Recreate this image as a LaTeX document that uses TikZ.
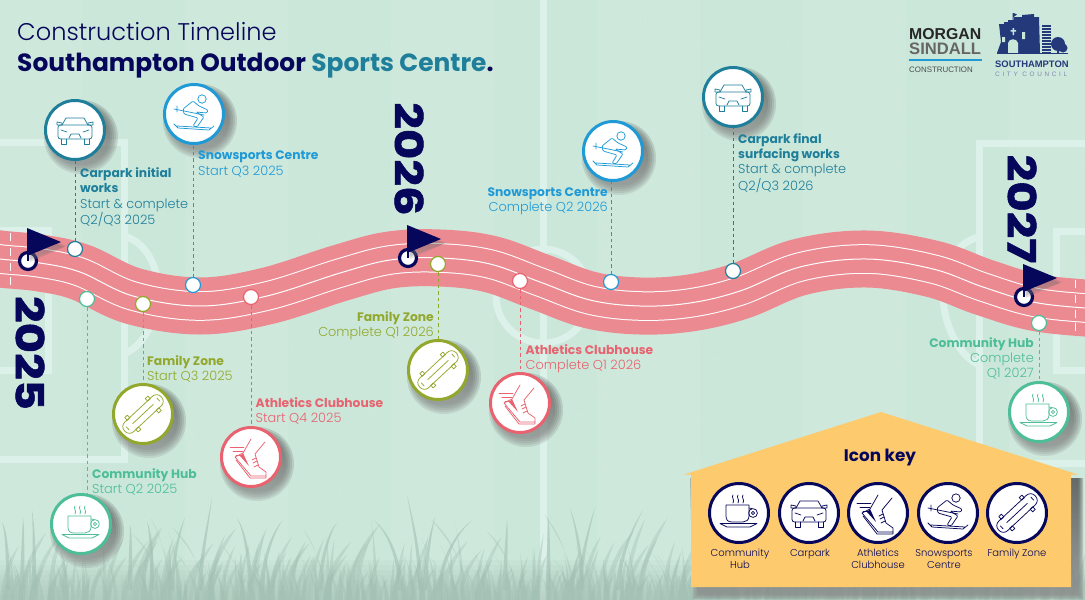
\documentclass[tikz,border=0pt]{standalone}
\usepackage{fontspec}
\setmainfont{Poppins}
\newfontfamily\thinfont{Poppins Light}
\newfontfamily\logofont{Liberation Sans}
\newfontfamily\spacedfont[LetterSpace=42]{Liberation Sans}
\usetikzlibrary{positioning}

\definecolor{navy}{HTML}{06065A}
\definecolor{logonavy}{HTML}{24397A}
\definecolor{carpark}{HTML}{1F7F9B}
\definecolor{snow}{HTML}{1F9AD6}
\definecolor{family}{HTML}{92A82C}
\definecolor{athletics}{HTML}{E8636F}
\definecolor{community}{HTML}{4DBE98}
\definecolor{trackred}{HTML}{EC8A92}
\definecolor{keyorange}{HTML}{FDCB6E}
\definecolor{turf}{HTML}{CBE7DA}
\definecolor{pitchline}{HTML}{DBF1E9}
\definecolor{grassblade}{HTML}{A3C1B4}
\definecolor{shade}{HTML}{24504E}

\newcommand{\bodyfont}{\thinfont\fontsize{12.9}{15.4}\selectfont}

\tikzset{
  badge/.style={circle, fill=white, line width=3pt, minimum size=59pt, inner sep=0pt},
  stop/.style={circle, fill=white, line width=1.2pt, minimum size=15pt, inner sep=0pt},
  flagpin/.style={circle, fill=white, draw=navy, line width=3.2pt, minimum size=17pt, inner sep=0pt},
  leader/.style={line width=.85pt, dash pattern=on 3.4pt off 3pt},
  note/.style={inner sep=0pt, align=left, anchor=north west, font=\fontsize{12.3}{15.4}\selectfont},
  noter/.style={note, align=right, anchor=north east},
  year/.style={rotate=-90, inner sep=0pt, text=navy, font=\fontsize{44}{44}\selectfont\bfseries\addfontfeatures{FakeBold=1.2}},
  keytext/.style={inner sep=0pt, align=center, anchor=north, text=navy, font=\thinfont\fontsize{10}{12.2}\selectfont},
  pitch/.style={draw=pitchline, line width=7pt},
  glyph/.style={line width=.75pt, line join=round, line cap=round},
}

% centre line of the running track
\def\trackline{plot[smooth, tension=.6] coordinates {(-30,254) (0,259) (40,263) (80,272) (133,296)
  (200,306) (267,296) (340,273) (390,260) (440,258) (490,264) (540,282) (590,300) (640,306) (690,303)
  (740,291) (800,267) (867,259) (933,269) (983,287) (1033,302) (1085,308) (1120,309)}}

% icons, drawn round (0,0)
\def\cupicon{
  \draw[glyph] (-6,-18) .. controls (-8,-16) and (-4,-13) .. (-6,-10) (-1,-18) .. controls (-3,-16) and (1,-13) .. (-1,-10)
    (4,-18) .. controls (2,-16) and (6,-13) .. (4,-10);
  \draw[glyph] (-13,-8) -- (10,-8) -- (10,3) .. controls (10,7) and (7,9) .. (4,9) -- (-7,9) .. controls (-11,9) and (-13,7) .. (-13,3) -- cycle;
  \draw[glyph] (14,0) circle (4.4pt) (14,0) circle (1.6pt) (10,-5) -- (13,-4.4);
  \draw[glyph] (-19,10.5) -- (18,10.5) -- (11,14) -- (-12,14) -- cycle;
}
\def\caricon{
  \draw[glyph] (-13,-5) -- (-9,-12) -- (9,-12) -- (13,-5);
  \draw[glyph, rounded corners=2.5pt] (-17,-5) -- (17,-5) -- (17,9) -- (-17,9) -- cycle;
  \draw[glyph] (-18,-8) -- (-13,-7) -- (-13,-5) -- (-18,-5) -- cycle (18,-8) -- (13,-7) -- (13,-5) -- (18,-5) -- cycle;
  \draw[glyph] (-14,9) -- (-14,14) -- (-9,14) -- (-9,9) (9,9) -- (9,14) -- (14,14) -- (14,9);
  \draw[glyph] (-14,0) -- (-8,2) (14,0) -- (8,2) (-6,8) -- (-4,4) -- (4,4) -- (6,8);
}
\def\shoeicon{
  \draw[glyph] (-21,-10) -- (-7,-10) (-18,-6) -- (-8,-6) (-15,-2) -- (-10,-2);
  \draw[glyph] (0,-18) -- (-8,-4) -- (-16,0) -- (0,19) -- (15,19) -- (15,15) -- (8,10) -- (4,-3) -- (14,-15);
  \draw[glyph] (-15,3) -- (-1,21) -- (15,21) -- (15,19);
  \draw[glyph] (5,1) -- (1,3) (6,4) -- (2,6) (7,8) -- (3,10);
  \fill (-8,-4) -- (-11,-1) -- (-2,9) -- cycle;
}
\def\skiicon{
  \draw[glyph] (8,-15) circle (4.2pt);
  \draw[glyph, rounded corners=1.2pt] (-11,-5) -- (-1,-13) -- (5,-8) -- (14,-4) -- (13,-1) -- (2,-2) -- (10,3) -- (3,13) -- (-1,12)
    -- (4,4) -- (-10,0) -- cycle;
  \draw[glyph] (-20,-5) -- (10,1) (-17,-8) -- (-17,-2);
  \draw[glyph] (-20,10) -- (-16,14) -- (15,16) -- (20,12) (-17,12) -- (17,14);
}
\def\boardicon{
  \begin{scope}[rotate=43]
    \draw[glyph, rounded corners=6pt] (-25,-6.5) rectangle (25,6.5);
    \draw[glyph] (-21,-2) -- (-21,2) (21,-2) -- (21,2);
    \foreach \wx in {-14,14}
      \foreach \wy in {-8,8}
        \draw[glyph] (\wx-1.8,\wy-1.8) rectangle (\wx+1.8,\wy+1.8);
    \draw[glyph] (-14,0) -- (14,0);
  \end{scope}
}
\def\yearflag{
  \fill[shade, opacity=.12] (1,-30) -- (38,-15) -- (1,-1) -- cycle;
  \fill[shade, opacity=.12] (2,-28) -- (36,-14) -- (2,1) -- cycle;
  \fill[navy] (-1,-33) -- (33,-19) -- (-1,-5) -- cycle;
  \draw[navy, line width=1.4pt] (0,-8) -- (0,0);
}

\begin{document}
\begin{tikzpicture}[x=1pt, y=-1pt]
  \useasboundingbox (0,0) rectangle (1085,600);
  \clip (0,0) rectangle (1085,600);

  % turf
  \fill[turf] (0,0) rectangle (1085,600);
  \foreach \sx in {-21,185,391,597,803,1009}
    \fill[white, opacity=.08] (\sx,0) rectangle +(103,600);
  \pgfmathsetseed{41}
  \foreach \i in {1,...,700}{
    \pgfmathsetmacro\tx{rnd*1085}
    \pgfmathsetmacro\ty{rnd*600}
    \pgfmathsetmacro\ta{rnd*360}
    \draw[white, opacity=.12, line width=.4pt] (\tx,\ty) -- +(\ta:9);
  }

  % pitch markings
  \draw[pitch] (-5,142) -- (124,142) -- (124,459) -- (-5,459);
  \draw[pitch] (-5,230) -- (48,230) -- (48,370) -- (-5,370);
  \draw[pitch] (124,236) .. controls (150,243) and (160,275) .. (158,295) .. controls (156,320) and (145,345) .. (124,354);
  \draw[pitch] (543,-5) -- (543,605);
  \draw[pitch] (543,296) circle (47pt);
  \draw[pitch] (1090,143) -- (979,143) -- (979,463) -- (1090,463);
  \draw[pitch] (1090,231) -- (1056,231) -- (1056,370) -- (1090,370);
  \draw[pitch] (979,237) .. controls (952,243) and (942,275) .. (943,300) .. controls (945,325) and (958,355) .. (979,365);

  % grass
  \pgfmathsetseed{7}
  \foreach \i in {1,...,620}{
    \pgfmathsetmacro\bx{rnd*1085}
    \pgfmathsetmacro\bh{20+rnd*rnd*70}
    \pgfmathsetmacro\bl{(rnd-.5)*\bh*.9}
    \fill[grassblade, opacity=.4] (\bx-2.2,604) .. controls (\bx-1.4,600-\bh*.5) and (\bx+\bl*.5,600-\bh*.8) .. (\bx+\bl,600-\bh)
      .. controls (\bx+\bl*.5+1.6,600-\bh*.7) and (\bx+2.2,600-\bh*.4) .. (\bx+2.2,604) -- cycle;
  }
  \foreach \tipx/\tipy/\basex in {407/495/420,473/520/440,373/520/400,212/497/200,283/520/262,337/523/320,435/517/425,595/507/580,
    570/508/582,643/510/618,507/520/505,548/517/548,32/510/34,2/522/8,147/522/152,185/518/172,237/518/250,130/525/130,23/517/22}
    \fill[grassblade, opacity=.6] (\basex-2.4,590) .. controls (\basex-1.4,560) and (\tipx/2+\basex/2,530) .. (\tipx,\tipy)
      .. controls (\tipx/2+\basex/2+2.4,530) and (\basex+2,560) .. (\basex+2.4,590) -- cycle;
  \foreach \g in {0,...,7}
    \fill[grassblade, opacity=.1] (0,560+\g*5) rectangle (1085,600);

  % track
  \draw[trackred, line width=57pt] \trackline;
  \draw[white, line width=29.6pt] \trackline;
  \draw[trackred, line width=27.6pt] \trackline;
  \draw[white, line width=1pt] \trackline;
  \foreach \lx/\ly in {10/233,10/248,10/263,10/277,1075/280,1075/295,1075/310,1075/323}
    \draw[white, line width=1pt] (\lx,\ly) -- +(0,8);

  % titles
  \node[anchor=base west, inner sep=0pt, text=navy, font=\fontsize{24.1}{26}\selectfont\thinfont] (title) at (17,40.5) {Construction Timeline};
  \node[anchor=base west, inner sep=0pt, text=navy, font=\fontsize{24.9}{26}\selectfont\bfseries] (subtitle) at (17,71)
    {Southampton Outdoor \textcolor{carpark}{Sports Centre}.};

  % year markers
  \node[year] (y25) at (30,353) {\scalebox{1.06}[.88]{2025}};
  \node[year] (y26) at (409,159) {\scalebox{1.06}[.88]{2026}};
  \node[year] (y27) at (1022,209) {\scalebox{1.06}[.88]{2027}};
  \foreach \nm/\px/\py in {pinA/28/261, pinB/408/258, pinC/1024/297}{
    \node[flagpin] (\nm) at (\px,\py) {};
    \begin{scope}[shift={(\px,\py)}]
      \yearflag
    \end{scope}
  }

  % stops on the track and the badges above or below them
  \foreach \nm/\sx/\sy/\bx/\by/\col/\side/\ic in {
    carparkA/75/249/75/130/carpark/south/\caricon,
    communityA/87/299/81/524/community/north/\cupicon,
    familyA/143/304/143/414/family/north/\boardicon,
    snowA/193/285/194/114/snow/south/\skiicon,
    athleticsA/251/297/251/457/athletics/north/\shoeicon,
    familyB/438/264/438/370/family/north/\boardicon,
    athleticsB/520/281/520/403/athletics/north/\shoeicon,
    snowB/611/282/613/151/snow/south/\skiicon,
    carparkB/733/271/733/97/carpark/south/\caricon,
    communityB/1039/323/1039/412/community/north/\cupicon}{
    \foreach \d in {6,4,2,0,-2}
      \fill[shade, opacity=.1] (\bx+6,\by+7) circle (31pt+\d pt);
    \node[badge, draw=\col] (\nm) at (\bx,\by) {};
    \node[stop, draw=\col] (\nm dot) at (\sx,\sy) {};
    \draw[leader, color=\col] (\nm dot) -- (\nm dot |- \nm.\side);
    \begin{scope}[shift={(\bx,\by)}, color=\col]
      \ic
    \end{scope}
  }

  % labels
  \node[note, text=carpark] (carparkAtxt) at (80,167.5) {\textbf{Carpark initial}\\\textbf{works}\\\bodyfont Start \& complete\\\bodyfont Q2/Q3 2025};
  \node[note, text=snow] (snowAtxt) at (198,151) {\textbf{Snowsports Centre}\\\bodyfont Start Q3 2025};
  \node[note, text=family] (familyAtxt) at (147,355) {\textbf{Family Zone}\\\bodyfont Start Q3 2025};
  \node[note, text=community] (communityAtxt) at (92,468) {\textbf{Community Hub}\\\bodyfont Start Q2 2025};
  \node[note, text=athletics] (athleticsAtxt) at (255.5,397) {\textbf{Athletics Clubhouse}\\\bodyfont Start Q4 2025};
  \node[noter, text=family] (familyBtxt) at (434,311) {\textbf{Family Zone}\\\bodyfont Complete Q1 2026};
  \node[note, text=athletics] (athleticsBtxt) at (525.5,344) {\textbf{Athletics Clubhouse}\\\bodyfont Complete Q1 2026};
  \node[noter, text=snow] (snowBtxt) at (608,187.5) {\textbf{Snowsports Centre}\\\bodyfont Complete Q2 2026};
  \node[note, text=carpark] (carparkBtxt) at (738,133) {\textbf{Carpark final}\\\textbf{surfacing works}\\\bodyfont Start \& complete\\\bodyfont Q2/Q3 2026};
  \node[noter, text=community] (communityBtxt) at (1034,337) {\textbf{Community Hub}\\\bodyfont Complete\\\bodyfont Q1 2027};

  % icon key
  \foreach \d in {5,3.5,2,.5}
    \fill[shade, opacity=.16] (695-\d,478) -- (1078+\d,478) -- (1078+\d,594+\d) -- (698-\d,594+\d) -- cycle;
  \fill[keyorange] (684,474.5) -- (881,412) -- (1078,474.5) -- (1071,474.5) -- (1071,587) -- (691,587) -- (691,474.5) -- cycle;
  \node[inner sep=0pt, text=navy, font=\fontsize{16.8}{18}\selectfont\bfseries] (keytitle) at (880,458) {Icon key};
  \foreach \nm/\kx/\ic in {keyCup/739/\cupicon, keyCar/809/\caricon, keyShoe/878/\shoeicon, keySki/948/\skiicon, keyBoard/1017/\boardicon}{
    \node[badge, draw=navy] (\nm) at (\kx,513) {};
    \begin{scope}[shift={(\kx,513)}, color=navy]
      \ic
    \end{scope}
  }
  \node[keytext] (keyCuptxt) at (740,549) {Community\\Hub};
  \node[keytext] (keyCartxt) at (810,549) {Carpark};
  \node[keytext] (keyShoetxt) at (878,549) {Athletics\\Clubhouse};
  \node[keytext] (keySkitxt) at (944,549) {Snowsports\\Centre};
  \node[keytext] (keyBoardtxt) at (1017,549) {Family Zone};

  % logos
  \node[anchor=base west, inner sep=0pt, text=black!85, font=\fontsize{15.8}{16}\selectfont\logofont\bfseries] (morgan) at (909,39) {MORGAN};
  \node[anchor=base west, inner sep=0pt, text=black!60, font=\fontsize{16.6}{17}\selectfont\logofont\bfseries] (sindall) at (909,54) {SINDALL};
  \draw[snow, line width=1.8pt] (909,60) -- (982,60);
  \node[anchor=base west, inner sep=0pt, text=black!70, font=\fontsize{7.9}{8}\selectfont\logofont] (construction) at (909,72.5) {CONSTRUCTION};
  \fill[logonavy] (997,53) -- (1001,42) -- (999,24) -- (1004,24) -- (1004,22) -- (1008,22) -- (1008,20) -- (1014,20) -- (1014,17)
    -- (1022,17) -- (1022,15) -- (1034,14) -- (1034,17) -- (1039,17) -- (1040,53) -- cycle;
  \fill[logonavy] (1012.5,13) rectangle (1013.5,20) (1013.5,13) -- (1017,14.5) -- (1013.5,17) -- cycle;
  \fill[turf] (1008,53) -- (1008,43) .. controls (1009,38) and (1017,38) .. (1018,43) -- (1018,53) -- cycle;
  \fill[turf] (1012.5,28) rectangle (1014,35) (1010.5,30) rectangle (1016,31.5);
  \fill[turf] (1002,37) rectangle (1005,42) (1022,32) rectangle (1025,39);
  \foreach \hy in {26,29,...,53}
    \draw[logonavy, line width=1.1pt] (1042,\hy) -- (1051,\hy);
  \fill[logonavy] (1058,44) circle (7pt) (1063,48) circle (4.5pt) (1057,44) rectangle (1059,53);
  \draw[logonavy, line width=.8pt] (997,53.5) -- (1068,53.5);
  \node[anchor=base west, inner sep=0pt, text=logonavy, font=\fontsize{9.4}{10}\selectfont\logofont\bfseries] (soton) at (995,67) {SOUTHAMPTON};
  \node[anchor=base west, inner sep=0pt, text=logonavy!60!white, font=\fontsize{6.4}{8}\selectfont\spacedfont] (council) at (995,76.5) {CITY COUNCIL};
\end{tikzpicture}
\end{document}
